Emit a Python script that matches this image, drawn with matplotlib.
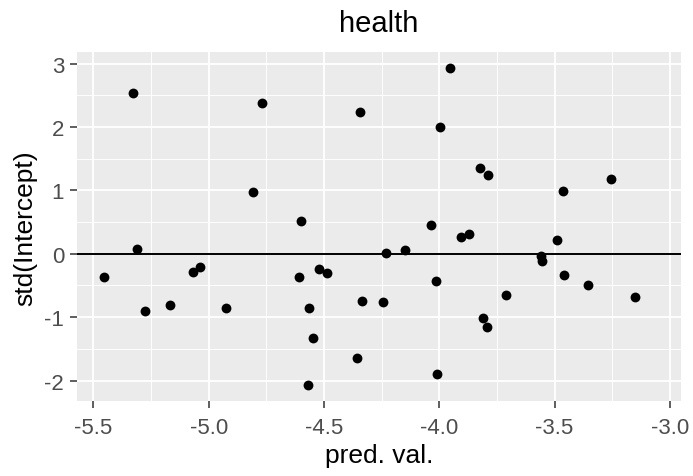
import numpy as np
import matplotlib.pyplot as plt
from matplotlib.ticker import MultipleLocator

plt.rcParams['font.family'] = ['Liberation Sans', 'DejaVu Sans']
plt.rcParams['axes.unicode_minus'] = False

# predicted values (x) and standardized random intercepts (y)
pred_val = [-5.455, -5.329, -5.311, -5.277, -5.166, -5.069, -5.036, -4.926,
            -4.809, -4.769, -4.610, -4.601, -4.569, -4.565, -4.546, -4.523,
            -4.488, -4.358, -4.345, -4.335, -4.244, -4.233, -4.149, -4.036,
            -4.016, -4.012, -3.997, -3.953, -3.907, -3.870, -3.822, -3.811,
            -3.792, -3.789, -3.710, -3.557, -3.554, -3.490, -3.460, -3.463,
            -3.357, -3.256, -3.151]
std_int = [-0.368, 2.539, 0.079, -0.909, -0.814, -0.284, -0.205, -0.861,
           0.968, 2.382, -0.368, 0.516, -2.071, -0.861, -1.325, -0.241,
           -0.304, -1.640, 2.230, -0.741, -0.762, 0.011, 0.058, 0.457,
           -0.435, -1.893, 1.994, 2.934, 0.268, 0.311, 1.352, -1.009,
           -1.156, 1.237, -0.656, -0.044, -0.115, 0.211, -0.341, 0.984,
           -0.494, 1.178, -0.678]

fig = plt.figure(figsize=(6.93, 4.77), dpi=100)
ax = fig.add_axes([0.1107, 0.1566, 0.872, 0.7317])

ax.set_facecolor('#EBEBEB')
ax.set_xlim(-5.572, -2.952)
ax.set_ylim(-2.328, 3.177)
ax.xaxis.set_major_locator(MultipleLocator(0.5))
ax.xaxis.set_minor_locator(MultipleLocator(0.25))
ax.yaxis.set_major_locator(MultipleLocator(1))
ax.yaxis.set_minor_locator(MultipleLocator(0.5))
ax.xaxis.set_major_formatter(lambda v, p: f'{v:.1f}')
ax.yaxis.set_major_formatter(lambda v, p: f'{v:.0f}')
ax.grid(which='major', color='white', linewidth=1.3)
ax.grid(which='minor', color='white', linewidth=0.65)
ax.set_axisbelow(True)
for s in ax.spines.values():
    s.set_visible(False)
ax.tick_params(which='major', color='#333333', length=5, width=1.1,
               labelsize=16, labelcolor='#4D4D4D')
ax.tick_params(axis='x', pad=6)
ax.tick_params(axis='y', pad=4)
ax.tick_params(which='minor', length=0)

ax.axhline(0, color='black', linewidth=1.4)
ax.scatter(pred_val, std_int, s=50, color='black', zorder=3, linewidths=0)

ax.set_xlabel('pred. val.', fontsize=19, labelpad=4)
ax.set_ylabel('std(Intercept)', fontsize=19, labelpad=5)
ax.set_title('health', fontsize=21, pad=15)

fig.savefig('out.png', dpi=100)
